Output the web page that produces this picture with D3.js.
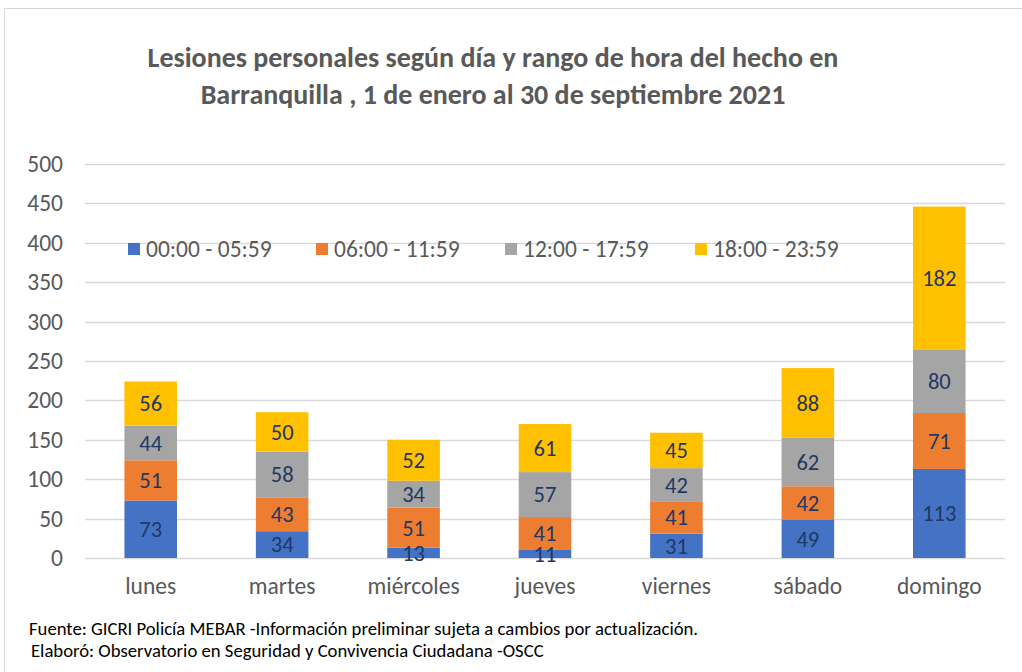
<!DOCTYPE html>
<html>
<head>
<meta charset="utf-8">
<script src="https://cdn.jsdelivr.net/npm/d3@7"></script>
<style>
  body { margin: 0; background: #fff; }
  text { font-family: Carlito, Calibri, Lato, sans-serif; }
</style>
</head>
<body>
<script>
const days = ["lunes", "martes", "miércoles", "jueves", "viernes", "sábado", "domingo"];
const ranges = ["00:00 - 05:59", "06:00 - 11:59", "12:00 - 17:59", "18:00 - 23:59"];
const madrugada = [73, 34, 13, 11, 31, 49, 113];
const manana = [51, 43, 51, 41, 41, 42, 71];
const tarde = [44, 58, 34, 57, 42, 62, 80];
const noche = [56, 50, 52, 61, 45, 88, 182];
const yTicks = [0, 50, 100, 150, 200, 250, 300, 350, 400, 450, 500];
const colors = ["#4472C4", "#ED7D31", "#A5A5A5", "#FFC000"];

const width = 1022, height = 672;
const plotLeft = 85, plotRight = 1005, plotTop = 164, plotBottom = 558;

const table = days.map((d, i) => ({
  day: d,
  [ranges[0]]: madrugada[i],
  [ranges[1]]: manana[i],
  [ranges[2]]: tarde[i],
  [ranges[3]]: noche[i],
}));

const svg = d3.select("body").append("svg")
  .attr("width", width)
  .attr("height", height);

// Card border
svg.append("rect")
  .attr("x", 4.5).attr("y", 8.5)
  .attr("width", width + 20).attr("height", height + 20)
  .attr("fill", "#fff")
  .attr("stroke", "#d9d9d9");

// Title
const title = svg.append("text")
  .attr("text-anchor", "middle")
  .attr("fill", "#595959")
  .attr("font-size", 28)
  .attr("font-weight", "bold");
title.append("tspan").attr("x", 493).attr("y", 67)
  .text("Lesiones personales según día y rango de hora del hecho en");
title.append("tspan").attr("x", 493).attr("y", 104)
  .text("Barranquilla , 1 de enero al 30 de septiembre 2021");

// Scales
const x = d3.scaleBand().domain(days).range([plotLeft, plotRight]).paddingInner(0.6).paddingOuter(0.3);
const y = d3.scaleLinear().domain([0, 500]).range([plotBottom, plotTop]);

// Grid
svg.append("g")
  .selectAll("line")
  .data(yTicks)
  .join("line")
  .attr("x1", plotLeft).attr("x2", plotRight)
  .attr("y1", d => Math.round(y(d)) + 0.5)
  .attr("y2", d => Math.round(y(d)) + 0.5)
  .attr("stroke", "#d9d9d9")
  .attr("stroke-width", 1.5);

// Y axis labels
const yAxis = svg.append("g")
  .attr("transform", `translate(${plotLeft}, 0)`)
  .call(d3.axisLeft(y).tickValues(yTicks).tickSize(0).tickPadding(22));
yAxis.select(".domain").remove();
yAxis.selectAll("text")
  .attr("fill", "#595959")
  .attr("font-size", 23.5)
  .attr("font-family", "Carlito, Calibri, Lato, sans-serif");

// X axis labels
const xAxis = svg.append("g")
  .attr("transform", `translate(0, ${plotBottom})`)
  .call(d3.axisBottom(x).tickSize(0).tickPadding(19));
xAxis.select(".domain").remove();
xAxis.selectAll("text")
  .attr("fill", "#595959")
  .attr("font-size", 23.5)
  .attr("font-family", "Carlito, Calibri, Lato, sans-serif");

// Stacked bars
const series = d3.stack().keys(ranges)(table);

const groups = svg.append("g")
  .selectAll("g")
  .data(series)
  .join("g")
  .attr("fill", (d, i) => colors[i]);

groups.selectAll("rect")
  .data(d => d)
  .join("rect")
  .attr("x", d => x(d.data.day))
  .attr("width", x.bandwidth())
  .attr("y", d => y(d[1]))
  .attr("height", d => y(d[0]) - y(d[1]));

// Data labels
svg.append("g")
  .selectAll("g")
  .data(series)
  .join("g")
  .selectAll("text")
  .data(d => d.map(v => ({ v, key: d.key })))
  .join("text")
  .attr("x", d => x(d.v.data.day) + x.bandwidth() / 2)
  .attr("y", d => y((d.v[0] + d.v[1]) / 2))
  .attr("dy", "0.35em")
  .attr("text-anchor", "middle")
  .attr("fill", "#1F3864")
  .attr("font-size", 22.5)
  .text(d => d.v.data[d.key]);

// Legend
const legendX = [128, 316, 505, 695];
const legend = svg.append("g")
  .selectAll("g")
  .data(ranges)
  .join("g")
  .attr("transform", (d, i) => `translate(${legendX[i]}, 249)`);
legend.append("rect")
  .attr("x", 0).attr("y", -6)
  .attr("width", 12).attr("height", 12)
  .attr("fill", (d, i) => colors[i]);
legend.append("text")
  .attr("x", 18)
  .attr("dy", "0.35em")
  .attr("fill", "#595959")
  .attr("font-size", 23.5)
  .text(d => d);

// Footer
svg.append("text")
  .attr("x", 29).attr("y", 635)
  .attr("font-size", 18.7)
  .attr("fill", "#000")
  .text("Fuente: GICRI Policía MEBAR -Información preliminar sujeta a cambios por actualización.");
svg.append("text")
  .attr("x", 31).attr("y", 657)
  .attr("font-size", 18.7)
  .attr("fill", "#000")
  .text("Elaboró: Observatorio en Seguridad y Convivencia Ciudadana -OSCC");
</script>
</body>
</html>
